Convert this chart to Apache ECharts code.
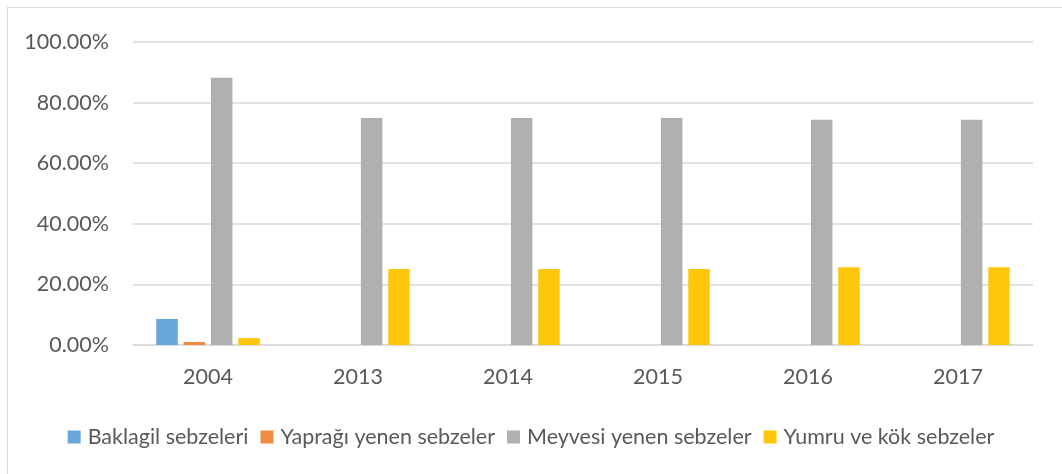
<!DOCTYPE html>
<html>
<head>
<meta charset="utf-8">
<script src="https://cdn.jsdelivr.net/npm/echarts@6/dist/echarts.min.js"></script>
<style>
  html, body { margin: 0; padding: 0; background: #ffffff; }
  #chart { width: 1062px; height: 474px; }
</style>
</head>
<body>
<div id="chart"></div>
<script>
// Years on the category axis
const years = ['2004', '2013', '2014', '2015', '2016', '2017'];

// Share of each vegetable group (percent)
const baklagil = [8.6, 0, 0, 0, 0, 0];
const yapragi = [1.0, 0, 0, 0, 0, 0];
const meyvesi = [88.2, 74.9, 74.9, 74.9, 74.3, 74.3];
const yumru = [2.3, 25.1, 25.1, 25.1, 25.7, 25.7];

const seriesNames = ['Baklagil sebzeleri', 'Yaprağı yenen sebzeler', 'Meyvesi yenen sebzeler', 'Yumru ve kök sebzeler'];
const seriesColors = ['#68a6db', '#f08c41', '#b0b0b0', '#ffc70c'];
const seriesValues = [baklagil, yapragi, meyvesi, yumru];

const FONT = 'Lato';
const TEXT = '#595959';
const SIZE = 21.5;

const chart = echarts.init(document.getElementById('chart'), null, { renderer: 'canvas' });

chart.setOption({
  backgroundColor: '#ffffff',
  animation: false,
  textStyle: { fontFamily: FONT },
  graphic: [
    // thin frame lines around the chart area
    { type: 'line', shape: { x1: 7.5, y1: 7, x2: 7.5, y2: 474 }, style: { stroke: '#d9d9d9', lineWidth: 1 } },
    { type: 'line', shape: { x1: 7, y1: 7.5, x2: 1062, y2: 7.5 }, style: { stroke: '#d9d9d9', lineWidth: 1 } }
  ],
  legend: {
    data: seriesNames,
    bottom: 21,
    left: 'center',
    itemWidth: 13,
    itemHeight: 13,
    itemGap: 12,
    icon: 'rect',
    textStyle: { color: TEXT, fontSize: SIZE, fontFamily: FONT, padding: [0, 0, 0, 2] }
  },
  grid: { left: 133, right: 29, top: 42, bottom: 129, containLabel: false },
  xAxis: {
    type: 'category',
    data: years,
    axisLine: { lineStyle: { color: '#d9d9d9', width: 1.5 } },
    axisTick: { show: false },
    axisLabel: { color: TEXT, fontSize: SIZE, fontFamily: FONT, margin: 21 }
  },
  yAxis: {
    type: 'value',
    min: 0,
    max: 100,
    interval: 20,
    axisLine: { show: false },
    axisTick: { show: false },
    splitLine: { lineStyle: { color: '#d9d9d9', width: 1.5 } },
    axisLabel: {
      color: TEXT,
      fontSize: SIZE,
      fontFamily: FONT,
      margin: 24,
      formatter: v => v.toFixed(2) + '%'
    }
  },
  series: seriesNames.map((name, i) => ({
    name,
    type: 'bar',
    data: seriesValues[i],
    barGap: '27%',
    barCategoryGap: '31%',
    itemStyle: { color: seriesColors[i] }
  }))
});
</script>
</body>
</html>
